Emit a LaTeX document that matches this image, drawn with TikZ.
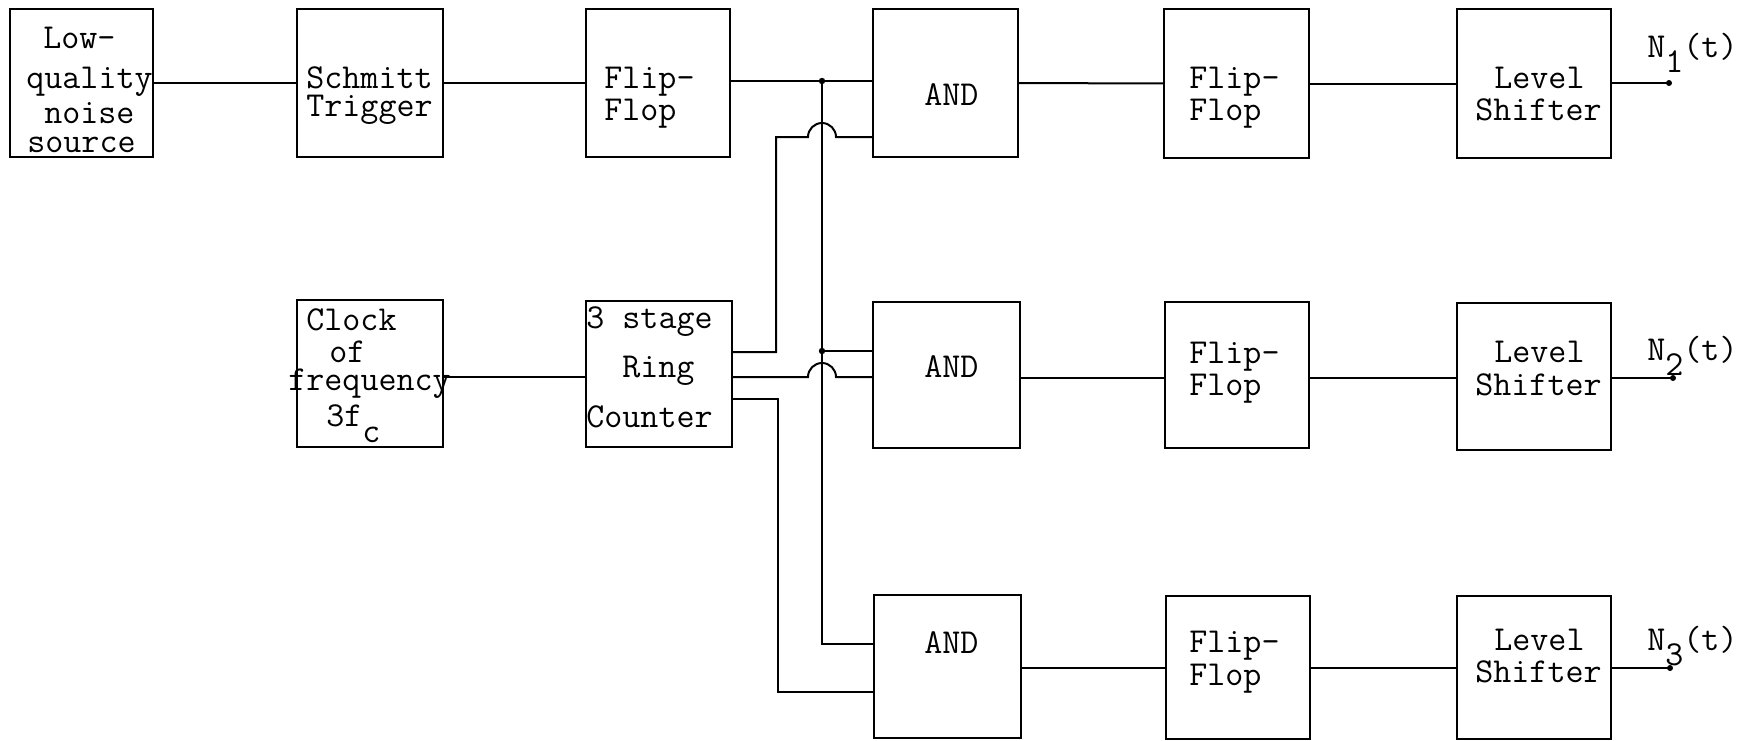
\documentclass[tikz,border=0pt]{standalone}
\newcommand\tline[4]{\node[txt] (#1) at (#2,#3) {#4};}
\newcommand\sub[1]{\raisebox{-7.5pt}{#1}}
\begin{document}
\begin{tikzpicture}[x=0.5pt,y=-0.5pt,
  box/.style={draw, line width=1pt, inner sep=0pt, outer sep=0pt},
  txt/.style={font=\fontsize{17.5}{20}\selectfont\ttfamily, inner sep=0pt, anchor=base west},
  wire/.style={line width=1pt},
  jdot/.style={circle, fill, inner sep=0pt, minimum size=3.2pt},
  odot/.style={circle, fill, inner sep=0pt, minimum size=3pt}]
\useasboundingbox (0,0) rectangle (1762,740);
% row 1 boxes
\node[box, minimum width=71.5pt, minimum height=74pt] (noise) at (81.5,83) {};
\node[box, minimum width=73pt, minimum height=74pt] (schmitt) at (370,83) {};
\node[box, minimum width=72pt, minimum height=74pt] (ff1) at (658,83) {};
\node[box, minimum width=72.5pt, minimum height=74pt] (and1) at (945.5,83) {};
\node[box, minimum width=72.5pt, minimum height=74.5pt] (ffa) at (1236.5,83.5) {};
\node[box, minimum width=77pt, minimum height=74.5pt] (ls1) at (1534,83.5) {};
% row 2 boxes
\node[box, minimum width=73pt, minimum height=73.5pt] (clock) at (370,373.5) {};
\node[box, minimum width=73pt, minimum height=73pt] (ring) at (659,374) {};
\node[box, minimum width=73.5pt, minimum height=73pt] (and2) at (946.5,375) {};
\node[box, minimum width=72pt, minimum height=73pt] (ffb) at (1237,375) {};
\node[box, minimum width=77pt, minimum height=73.5pt] (ls2) at (1534,376.5) {};
% row 3 boxes
\node[box, minimum width=73.5pt, minimum height=71.5pt] (and3) at (947.5,666.5) {};
\node[box, minimum width=72pt, minimum height=71.5pt] (ffc) at (1238,667.5) {};
\node[box, minimum width=77pt, minimum height=71.5pt] (ls3) at (1534,667.5) {};
% texts
\tline{t-noise1}{43}{48}{Low-}
\tline{t-noise2}{26}{88}{quality}
\tline{t-noise3}{44}{123}{noise}
\tline{t-noise4}{27}{152}{source}
\tline{t-sch1}{306}{88}{Schmitt}
\tline{t-sch2}{306}{116}{Trigger}
\tline{t-ff1a}{604}{88}{Flip-}
\tline{t-ff1b}{604}{120}{Flop}
\tline{t-and1}{924}{105}{AND}
\tline{t-ffa1}{1189}{88}{Flip-}
\tline{t-ffa2}{1189}{120}{Flop}
\tline{t-ls1a}{1494}{88}{Level}
\tline{t-ls1b}{1475}{120}{Shifter}
\tline{t-clk1}{306}{330}{Clock}
\tline{t-clk2}{329}{362}{of}
\tline{t-clk3}{288}{390}{frequency}
\tline{t-clk4}{326}{426}{3f\raisebox{-8pt}{c}}
\tline{t-ring1}{586}{328}{3 stage}
\tline{t-ring2}{622}{377}{Ring}
\tline{t-ring3}{586}{427}{Counter}
\tline{t-and2}{924}{377}{AND}
\tline{t-ffb1}{1189}{363}{Flip-}
\tline{t-ffb2}{1189}{395}{Flop}
\tline{t-ls2a}{1494}{362}{Level}
\tline{t-ls2b}{1475}{395}{Shifter}
\tline{t-and3}{924}{653}{AND}
\tline{t-ffc1}{1189}{652}{Flip-}
\tline{t-ffc2}{1189}{685}{Flop}
\tline{t-ls3a}{1494}{650}{Level}
\tline{t-ls3b}{1475}{682}{Shifter}
\tline{t-n1}{1647}{57}{N\sub{1}(t)}
\tline{t-n2}{1647}{360}{N\sub{2}(t)}
\tline{t-n3}{1647}{650}{N\sub{3}(t)}
% coordinates
\coordinate (j1) at (822,81);
\coordinate (j2) at (822,351);
\coordinate (o1) at (1669,83);
\coordinate (o2) at (1673,378);
\coordinate (o3) at (1670,668);
\coordinate (r1) at (ring.east |- 0,352);
\coordinate (r2) at (ring.east |- 0,377);
\coordinate (r3) at (ring.east |- 0,399);
% wires row 1
\draw[wire] (noise) -- (schmitt);
\draw[wire] (schmitt) -- (ff1);
\draw[wire] (ff1.east |- j1) -- (j1) -- (and1.west |- j1);
\draw[wire] (and1) -- (ffa);
\draw[wire] (ffa) -- (ls1);
\draw[wire] (ls1.east |- o1) -- (o1);
% row 2
\draw[wire] (clock.east |- 0,377) -- (ring.west |- 0,377);
\draw[wire] (r1) -- (776,352) -- (776,137) -- (808,137) arc[start angle=180, end angle=0, radius=7pt] -- (and1.west |- 0,137);
\draw[wire] (r2) -- (808,377) arc[start angle=180, end angle=0, radius=7pt] -- (and2.west |- 0,377);
\draw[wire] (r3) -- (778,399) -- (778,692) -- (and3.west |- 0,692);
\draw[wire] (j1) -- (822,644) -- (and3.west |- 0,644);
\draw[wire] (j2) -- (and2.west |- j2);
\draw[wire] (and2.east |- 0,378) -- (ffb.west |- 0,378);
\draw[wire] (ffb.east |- 0,378) -- (ls2.west |- 0,378);
\draw[wire] (ls2.east |- o2) -- (o2);
% row 3
\draw[wire] (and3.east |- 0,668) -- (ffc.west |- 0,668);
\draw[wire] (ffc.east |- 0,668) -- (ls3.west |- 0,668);
\draw[wire] (ls3.east |- o3) -- (o3);
% dots
\node[jdot] (dj1) at (j1) {};
\node[jdot] (dj2) at (j2) {};
\node[odot] (do1) at (o1) {};
\node[odot] (do2) at (o2) {};
\node[odot] (do3) at (o3) {};
\end{tikzpicture}
\end{document}
